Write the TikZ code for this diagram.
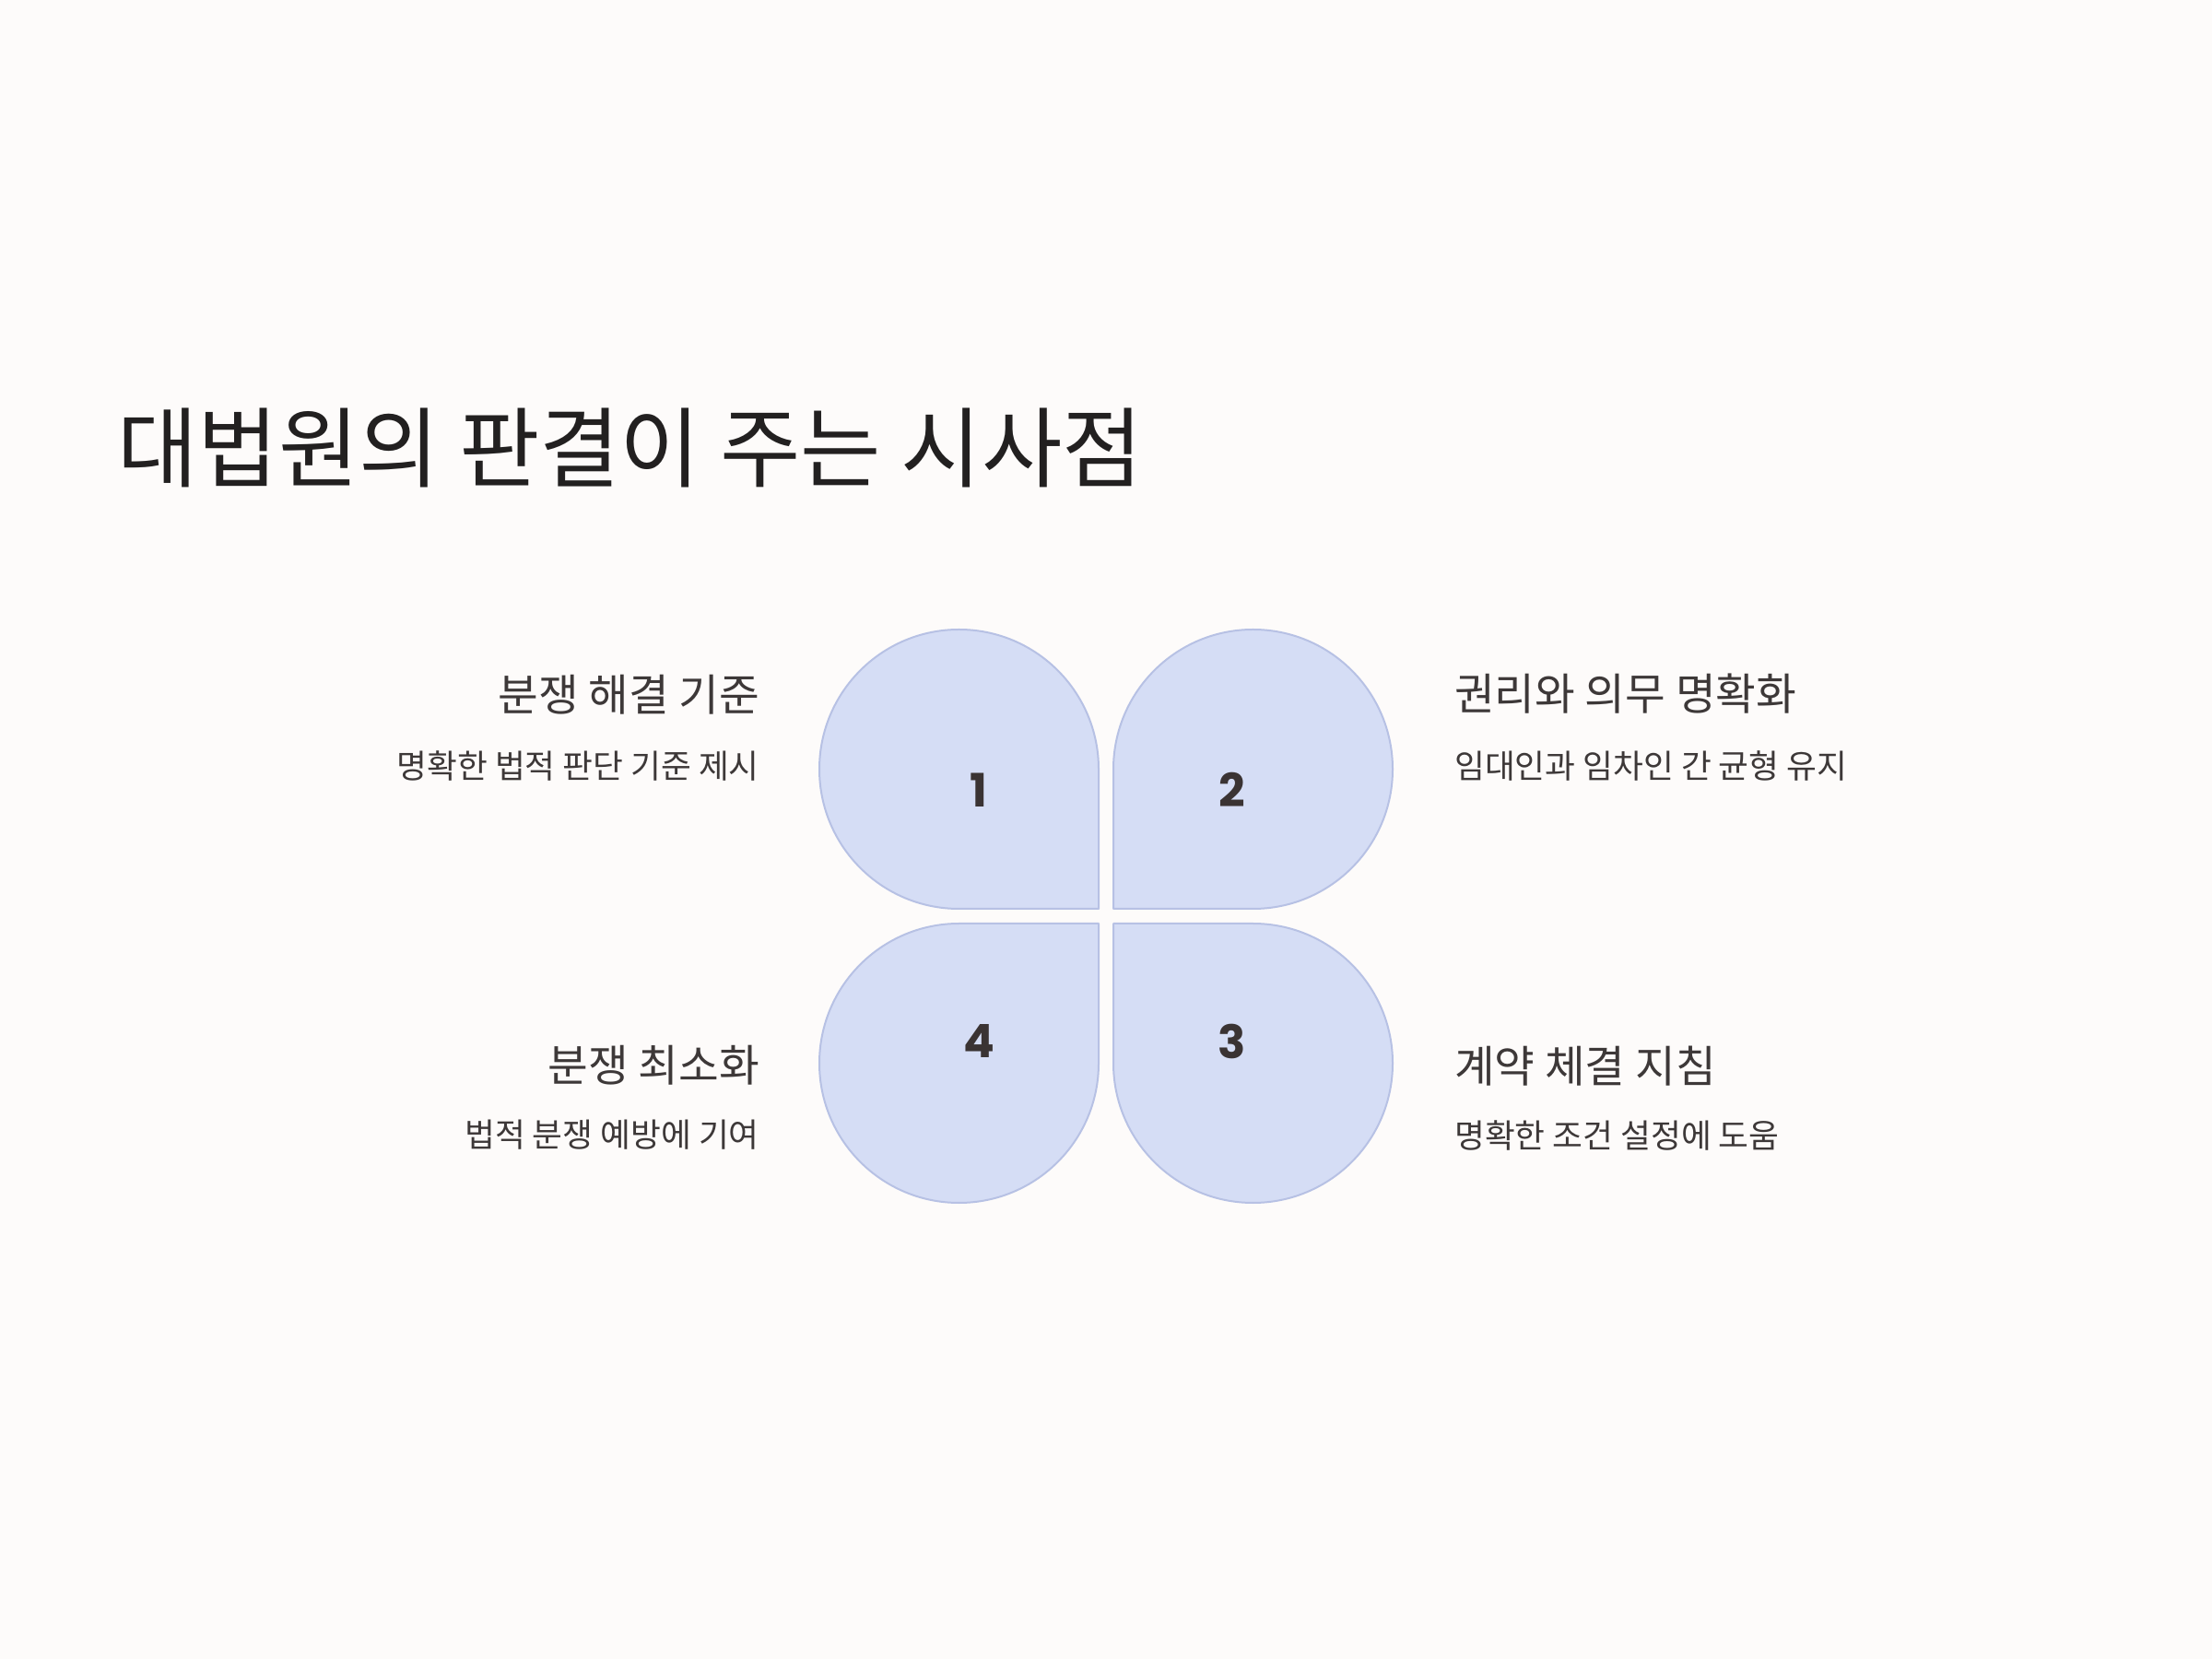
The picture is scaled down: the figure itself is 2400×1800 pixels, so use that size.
\documentclass[tikz,border=0pt]{standalone}
\usepackage{fontspec}
\newfontfamily\kr{Noto Sans CJK KR}
\newfontfamily\numfont{Poppins}
\definecolor{bgc}{HTML}{FDFBFA}
\definecolor{petalfill}{HTML}{D5DDF5}
\definecolor{petaldraw}{HTML}{B7C1E4}
\definecolor{titlec}{HTML}{222020}
\definecolor{textc}{HTML}{3D3838}
\definecolor{numc}{HTML}{3A3333}
\tikzset{
  petal/.style={fill=petalfill, draw=petaldraw, line width=2pt, line join=round},
  numlabel/.style={font=\numfont\bfseries\fontsize{50}{55}\selectfont, text=numc, inner sep=0pt},
  headl/.style={font=\kr\fontsize{47.5}{52}\selectfont, text=textc, inner sep=0pt},
  subl/.style={font=\kr\fontsize{35.7}{40}\selectfont, text=textc, inner sep=0pt},
}
\begin{document}
\begin{tikzpicture}[x=1pt,y=1pt]
\fill[bgc] (0,0) rectangle (2400,1800);
\useasboundingbox (0,0) rectangle (2400,1800);
% title
\node[anchor=west, inner sep=0pt, text=titlec, font=\kr\fontsize{95}{100}\selectfont] (title) at (127,1314) {대법원의 판결이 주는 시사점};
% petal centres
\coordinate (c1) at (1040.5,965.5);
\coordinate (c2) at (1359.5,965.5);
\coordinate (c3) at (1359.5,646.5);
\coordinate (c4) at (1040.5,646.5);
% petals
\draw[petal] (1192,965.5) arc[start angle=0, end angle=270, radius=151.5] -- (1192,814) -- cycle;
\draw[petal] (1208,965.5) arc[start angle=180, end angle=-90, radius=151.5] -- (1208,814) -- cycle;
\draw[petal] (1208,646.5) arc[start angle=180, end angle=450, radius=151.5] -- (1208,798) -- cycle;
\draw[petal] (1192,646.5) arc[start angle=0, end angle=-270, radius=151.5] -- (1192,798) -- cycle;
% numbers
\node[numlabel] (n1) at (1062,943) {1};
\node[numlabel] (n2) at (1337,943) {2};
\node[numlabel] (n3) at (1337,670) {3};
\node[numlabel] (n4) at (1062,670) {4};
% texts
\node[headl, anchor=east] (h1) at (824,1046.5) {분쟁 해결 기준};
\node[subl, anchor=east] (s1) at (824,969) {명확한 법적 판단 기준 제시};
\node[headl, anchor=west] (h2) at (1578,1047) {권리와 의무 명확화};
\node[subl, anchor=west] (s2) at (1578,969) {임대인과 임차인 간 균형 유지};
\node[headl, anchor=west] (h3) at (1578,643) {계약 체결 지침};
\node[subl, anchor=west] (s3) at (1578,568) {명확한 조건 설정에 도움};
\node[headl, anchor=east] (h4) at (824,644) {분쟁 최소화};
\node[subl, anchor=east] (s4) at (824,568.5) {법적 분쟁 예방에 기여};
\end{tikzpicture}
\end{document}
